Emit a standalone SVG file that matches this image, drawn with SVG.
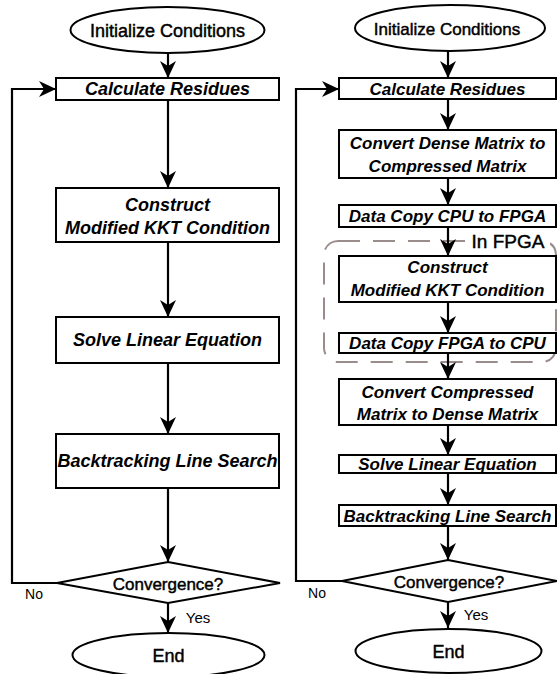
<svg xmlns="http://www.w3.org/2000/svg" width="557" height="674" viewBox="0 0 557 674">
<defs>
<marker id="ah" markerUnits="userSpaceOnUse" markerWidth="18" markerHeight="18" refX="17" refY="8" orient="auto">
<path d="M0,0 L17,8 L0,16 L5,8 Z" fill="#000"/>
</marker>
<style>
.box{fill:#fff;stroke:#000;stroke-width:2}
.conn{fill:none;stroke:#000;stroke-width:2.2;marker-end:url(#ah)}
.t{font-family:"Liberation Sans",Arial,Helvetica,sans-serif;font-weight:bold;font-style:italic;text-anchor:middle;dominant-baseline:central;fill:#000}
.tl{font-size:18px}
.tr{font-size:17px}
.r{font-family:"Liberation Sans",Arial,Helvetica,sans-serif;text-anchor:middle;dominant-baseline:central;fill:#000}
.h{stroke:#000;stroke-width:0.45}
.dash{fill:none;stroke:#9b8c8c;stroke-width:2;stroke-dasharray:22 13}
</style>
</defs>
<rect width="557" height="674" fill="#fff"/>

<g id="fpga-region">
<rect class="dash" x="324" y="241" width="232" height="121" rx="14" ry="14"/>
<rect x="466" y="230" width="84" height="22" fill="#fff"/>
<text class="r h" x="508" y="241" font-size="19">In FPGA</text>
</g>

<g id="connectors">
<path class="conn" d="M168,53 V78"/>
<path class="conn" d="M168,100 V188"/>
<path class="conn" d="M168,242 V317"/>
<path class="conn" d="M168,363 V434"/>
<path class="conn" d="M168,488 V562"/>
<path class="conn" d="M168,603 V633"/>
<path class="conn" d="M57,583 H12 V89 H56"/>
<path class="conn" d="M448,51 V78"/>
<path class="conn" d="M448,99 V130"/>
<path class="conn" d="M448,178 V205"/>
<path class="conn" d="M448,227 V256"/>
<path class="conn" d="M448,302 V333"/>
<path class="conn" d="M448,353 V379"/>
<path class="conn" d="M448,425 V455"/>
<path class="conn" d="M448,473 V505"/>
<path class="conn" d="M448,526 V560"/>
<path class="conn" d="M448,602 V628"/>
<path class="conn" d="M342,581 H296 V89 H339"/>
<text class="r" x="34" y="594" font-size="14">No</text>
<text class="r" x="198" y="617" font-size="15">Yes</text>
<text class="r" x="317" y="593" font-size="14">No</text>
<text class="r" x="476" y="614" font-size="15">Yes</text>
</g>

<!-- Left column -->
<g id="L-init">
<ellipse class="box" cx="167.5" cy="30" rx="97" ry="23"/>
<text class="r h" x="167.5" y="31" font-size="18">Initialize Conditions</text>
</g>
<g id="L-calc">
<rect class="box" x="56" y="78" width="223" height="22"/>
<text class="t tl" x="167.5" y="89">Calculate Residues</text>
</g>
<g id="L-kkt">
<rect class="box" x="56" y="188" width="223" height="54"/>
<text class="t tl" x="167.5" y="205">Construct</text>
<text class="t tl" x="167.5" y="228">Modified KKT Condition</text>
</g>
<g id="L-solve">
<rect class="box" x="56" y="317" width="223" height="46"/>
<text class="t tl" x="167.5" y="340">Solve Linear Equation</text>
</g>
<g id="L-bt">
<rect class="box" x="56" y="434" width="223" height="54"/>
<text class="t tl" x="167.5" y="461">Backtracking Line Search</text>
</g>
<g id="L-conv">
<polygon class="box" points="168,562 280,583 168,603 57,583"/>
<text class="r h" x="168" y="584" font-size="17">Convergence?</text>
</g>
<g id="L-end">
<ellipse class="box" cx="168.5" cy="655" rx="96" ry="22"/>
<text class="r h" x="168.5" y="656" font-size="18">End</text>
</g>

<!-- Right column -->
<g id="R-init">
<ellipse class="box" cx="450" cy="28" rx="95" ry="23"/>
<text class="r h" x="447" y="29" font-size="17">Initialize Conditions</text>
</g>
<g id="R-calc">
<rect class="box" x="339" y="78" width="217" height="21"/>
<text class="t tr" x="447.5" y="89">Calculate Residues</text>
</g>
<g id="R-d2c">
<rect class="box" x="339" y="130" width="217" height="48"/>
<text class="t tr" x="447.5" y="143">Convert Dense Matrix to</text>
<text class="t tr" x="447.5" y="166">Compressed Matrix</text>
</g>
<g id="R-cpu2fpga">
<rect class="box" x="339" y="205" width="217" height="22"/>
<text class="t tr" x="447.5" y="216">Data Copy CPU to FPGA</text>
</g>
<g id="R-kkt">
<rect class="box" x="339" y="256" width="217" height="46"/>
<text class="t tr" x="447.5" y="267">Construct</text>
<text class="t tr" x="447.5" y="290">Modified KKT Condition</text>
</g>
<g id="R-fpga2cpu">
<rect class="box" x="339" y="333" width="217" height="20"/>
<text class="t tr" x="447.5" y="343">Data Copy FPGA to CPU</text>
</g>
<g id="R-c2d">
<rect class="box" x="339" y="379" width="217" height="46"/>
<text class="t tr" x="447.5" y="392">Convert Compressed</text>
<text class="t tr" x="447.5" y="414">Matrix to Dense Matrix</text>
</g>
<g id="R-solve">
<rect class="box" x="339" y="455" width="217" height="18"/>
<text class="t tr" x="447.5" y="464">Solve Linear Equation</text>
</g>
<g id="R-bt">
<rect class="box" x="339" y="505" width="217" height="21"/>
<text class="t tr" x="447.5" y="516">Backtracking Line Search</text>
</g>
<g id="R-conv">
<polygon class="box" points="448,560 557,581 448,602 342,581"/>
<text class="r h" x="449" y="582" font-size="17">Convergence?</text>
</g>
<g id="R-end">
<ellipse class="box" cx="448.5" cy="651" rx="93" ry="22"/>
<text class="r h" x="448.5" y="652" font-size="18">End</text>
</g>
</svg>
